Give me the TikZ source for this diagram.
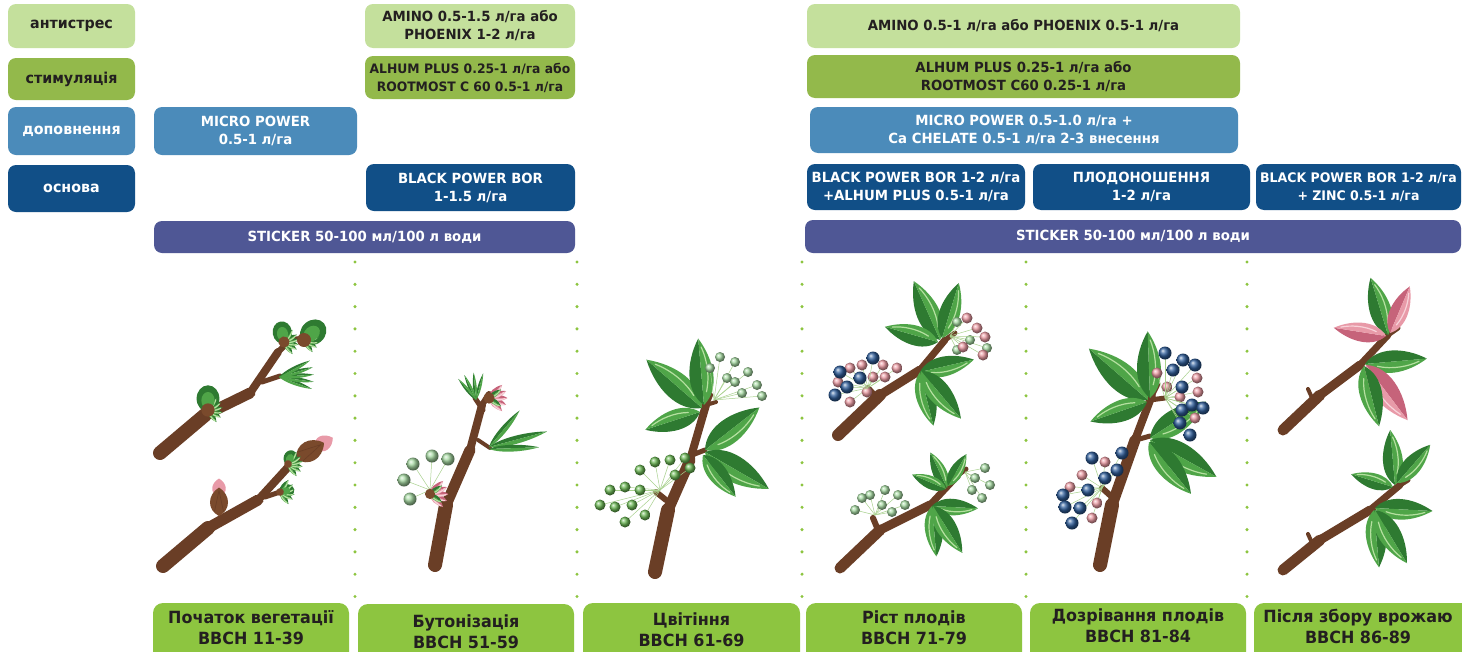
\documentclass[tikz,border=0pt]{standalone}
\usepackage{fontspec}
\setmainfont{DejaVu Sans}[FakeStretch=0.95]
\definecolor{cAnti}{HTML}{C4E09C}
\definecolor{cStim}{HTML}{93B94B}
\definecolor{cDop}{HTML}{4B8BBA}
\definecolor{cOsn}{HTML}{114F87}
\definecolor{cStick}{HTML}{4F5795}
\definecolor{cLab}{HTML}{8DC540}
\definecolor{txtD}{HTML}{231F20}
\definecolor{brC}{HTML}{6A3E26}
\definecolor{brH}{HTML}{8C5B3C}
\definecolor{lfD}{HTML}{2E7A31}
\definecolor{lfM}{HTML}{4FA548}
\definecolor{lfL}{HTML}{B5E0A0}
\definecolor{pD}{HTML}{C6637A}
\definecolor{pM}{HTML}{E89AA8}
\definecolor{pL}{HTML}{F8D3DA}
\definecolor{bblue}{HTML}{2F5E9B}
\definecolor{bpink}{HTML}{EC9BA3}
\definecolor{flG}{HTML}{A6D9A2}
\definecolor{flG2}{HTML}{6CB955}
\definecolor{stmC}{HTML}{A9D18E}
\definecolor{budB}{HTML}{7A4A2C}
\newcommand\mycluster[4]{%
  \foreach \x/\y in {#3} {\draw[stm] (#1,#2) -- (\x,\y);}
  \foreach \x/\y in {#3} {\shade[#4] (\x,\y) circle;}}
\tikzset{
  leaf/.pic={
    \fill[lfD] (0,0) .. controls (10,-12) and (30,-10) .. (46,0) -- cycle;
    \fill[lfM] (0,0) .. controls (10,12) and (30,10) .. (46,0) -- cycle;
    \draw[lfL, line width=1.2, line cap=round] (9,2.5) .. controls (20,6) and (32,4.5) .. (40,1.5);
  },
  pleaf/.pic={
    \fill[pD] (0,0) .. controls (10,-12) and (30,-10) .. (46,0) -- cycle;
    \fill[pM] (0,0) .. controls (10,12) and (30,10) .. (46,0) -- cycle;
    \draw[pL, line width=1.2, line cap=round] (9,2.5) .. controls (20,6) and (32,4.5) .. (40,1.5);
  },
  nleaf/.pic={
    \fill[lfD] (0,0) .. controls (12,-5) and (35,-4) .. (50,0) -- cycle;
    \fill[lfM] (0,0) .. controls (12,5) and (35,4) .. (50,0) -- cycle;
  },
  gbud/.pic={
    \fill[lfD] (6,0) ellipse (7 and 6);
    \foreach \a in {-55,-30,-10,10,30,55} {\pic[rotate=\a, scale=0.32] at (0,0) {leaf};}
    \fill[lfM] (5,0) ellipse (4.5 and 3.5);
    \fill[budB] (0,0) circle (3.5);
  },
  bbud/.pic={
    \fill[pM] (12,0) .. controls (16,-7) and (22,-5) .. (25,0) .. controls (22,5) and (16,7) .. (12,0);
    \fill[budB] (0,0) .. controls (4,-8) and (14,-8) .. (19,0) .. controls (14,8) and (4,8) .. (0,0);
    \draw[brC, line width=0.6] (3,-3) -- (17,0) (3,3) -- (17,0);
  },
  pflower/.pic={
    \foreach \a in {-45,-22,0,22,45} {\pic[rotate=\a, scale=0.4] at (0,0) {pleaf};}
    \foreach \a in {-35,35} {\pic[rotate=\a, scale=0.32] at (0,0) {leaf};}
    \fill[budB] (0,0) circle (3.5);
  },
  box/.style={rounded corners=8, align=center, inner sep=0pt, font=\bfseries\fontsize{14}{18}\selectfont},
  bA/.style={box, fill=cAnti, text=txtD},
  bS/.style={box, fill=cStim, text=txtD},
  bD/.style={box, fill=cDop, text=white},
  bO/.style={box, fill=cOsn, text=white},
  bT/.style={box, fill=cStick, text=white},
  lgfont/.style={font=\bfseries\fontsize{15}{18}\selectfont},
  labbox/.style={fill=cLab, rounded corners=10},
  labtxt/.style={align=center, text=txtD, inner sep=0pt, font=\bfseries\fontsize{16.8}{21}\selectfont},
  dotc/.style={fill=cLab},
  br/.style={draw=brC, line cap=round, line join=round},
  stm/.style={draw=stmC, line width=0.5},
  blueb/.style={ball color=bblue, radius=6.5},
  pinkb/.style={ball color=bpink, radius=5.5},
  grnf/.style={ball color=flG, radius=5},
  grnfB/.style={ball color=flG, radius=6.5},
  grnf2/.style={ball color=flG2, radius=5.5},
}
\begin{document}
\begin{tikzpicture}[x=1pt,y=-1pt]
\useasboundingbox (0,0) rectangle (1462,651);
\fill[white] (0,0) rectangle (1462,651);

% legend
\node[bA, lgfont, minimum width=127, minimum height=44] (lgA) at (71.5,26) {антистрес};
\node[bS, lgfont, minimum width=127, minimum height=42] (lgS) at (71.5,79) {стимуляція};
\node[bD, lgfont, minimum width=127, minimum height=48] (lgD) at (71.5,131) {доповнення};
\node[bO, lgfont, minimum width=127, minimum height=47] (lgO) at (71.5,188.5) {основа};

% left block
\node[bD, minimum width=203, minimum height=48] (mp1) at (255.5,131) {MICRO POWER\\0.5-1 л/га};
\node[bA, minimum width=210, minimum height=44] (am1) at (470,26) {AMINO 0.5-1.5 л/га або\\PHOENIX 1-2 л/га};
\node[bS, minimum width=210, minimum height=43, font=\bfseries\fontsize{13}{18}\selectfont] (al1) at (470,77.5) {ALHUM PLUS 0.25-1 л/га або\\ROOTMOST C 60 0.5-1 л/га};
\node[bO, minimum width=209, minimum height=47] (bp1) at (470.5,187.5) {BLACK POWER BOR\\1-1.5 л/га};
\node[bT, minimum width=421, minimum height=32] (st1) at (364.5,237) {STICKER 50-100 мл/100 л води};

% right block
\node[bA, minimum width=433, minimum height=44] (am2) at (1023.5,26) {AMINO 0.5-1 л/га або PHOENIX 0.5-1 л/га};
\node[bS, minimum width=433, minimum height=43] (al2) at (1023.5,76.5) {ALHUM PLUS 0.25-1 л/га або\\ROOTMOST C60 0.25-1 л/га};
\node[bD, minimum width=428, minimum height=46] (mp2) at (1024,130) {MICRO POWER 0.5-1.0 л/га +\\Ca CHELATE 0.5-1 л/га 2-3 внесення};
\node[bO, minimum width=218, minimum height=46] (bp2) at (916,187) {BLACK POWER BOR 1-2 л/га\\+ALHUM PLUS 0.5-1 л/га};
\node[bO, minimum width=217, minimum height=46] (pl2) at (1141.5,187) {ПЛОДОНОШЕННЯ\\1-2 л/га};
\node[bO, minimum width=205, minimum height=46, font=\bfseries\fontsize{13.2}{18}\selectfont] (bp3) at (1358.5,187) {BLACK POWER BOR 1-2 л/га\\+ ZINC 0.5-1 л/га};
\node[bT, minimum width=656, minimum height=33] (st2) at (1133,236.5) {STICKER 50-100 мл/100 л води};

% dotted separators
\foreach \x in {355,577,802,1026,1247} {
  \foreach \i in {0,...,15} {\fill[dotc] (\x,262+22.3*\i) circle (1.7);}
}

% bottom labels
\fill[labbox] (153,603) rectangle (349,680);
\fill[labbox] (358,604) rectangle (574,680);
\fill[labbox] (583,603) rectangle (800,680);
\fill[labbox] (806,603) rectangle (1022,680);
\fill[labbox] (1030,603) rectangle (1246,680);
\fill[labbox] (1254,603) rectangle (1472,680);
\node[labtxt] (t1) at (251,628) {Початок вегетації\\ВВСН 11-39};
\node[labtxt] (t2) at (466,632) {Бутонізація\\ВВСН 51-59};
\node[labtxt] (t3) at (691.5,630) {Цвітіння\\ВВСН 61-69};
\node[labtxt] (t4) at (914,628) {Ріст плодів\\ВВСН 71-79};
\node[labtxt] (t5) at (1138,626) {Дозрівання плодів\\ВВСН 81-84};
\node[labtxt] (t6) at (1358,626) {Після збору врожаю\\ВВСН 86-89};

% ===== column 1 : upper branch
\draw[br,line width=14] (160,453) -- (205,415);
\draw[br,line width=11] (205,415) -- (250,393);
\draw[br,line width=8] (250,393) -- (278,352);
\draw[br,line width=6] (278,352) -- (292,338);
\draw[br,line width=5] (262,382) -- (280,376);
\draw[br,line width=5] (288,340) -- (304,338);
\foreach \a in {-20,-8,4,16,28} {\pic[rotate=\a,scale=0.7] at (279,377) {nleaf};}
\pic[rotate=90,scale=1.9] at (208,410) {gbud};
\pic[rotate=100,scale=1.6] at (284,342) {gbud};
\pic[rotate=40,scale=2.0] at (304,340) {gbud};
% column 1 : lower branch
\draw[br,line width=14] (163,566) -- (208,528);
\draw[br,line width=11] (208,528) -- (258,500);
\draw[br,line width=8] (258,500) -- (290,465);
\draw[br,line width=6] (290,465) -- (302,455);
\draw[br,line width=5] (265,497) -- (280,492);
\pic[rotate=90,scale=1.5] at (219,516) {bbud};
\pic[rotate=30,scale=1.7] at (296,459) {bbud};
\pic[rotate=70,scale=1.1] at (288,464) {gbud};
\pic[rotate=10,scale=1.1] at (280,492) {gbud};

% ===== column 2
\draw[br,line width=14] (435,565) -- (446,505);
\draw[br,line width=11] (446,505) -- (470,450);
\draw[br,line width=8] (470,450) -- (482,405);
\draw[br,line width=6] (482,405) -- (489,394);
\draw[br,line width=7] (446,505) -- (430,492);
\draw[br,line width=5] (483,410) -- (475,398);
\draw[br,line width=4] (478,440) -- (490,448);
\mycluster{430}{490}{413/464,432/456,448/459,404/480,410/499}{grnfB}
\pic[rotate=90,scale=1.45] at (430,494) {pflower};
\pic[rotate=45,scale=1.6] at (489,398) {pflower};
\foreach \a in {75,95,115,130} {\pic[rotate=\a,scale=0.55] at (476,400) {nleaf};}
\pic[rotate=50,scale=0.95] at (489,447) {nleaf};
\pic[rotate=15,scale=1.2] at (489,447) {nleaf};
\pic[rotate=2,scale=1.0] at (489,449) {nleaf};

% ===== column 3
\draw[br,line width=14] (655,572) -- (668,510);
\draw[br,line width=11] (668,510) -- (690,460);
\draw[br,line width=8] (690,460) -- (706,405);
\draw[br,line width=6] (706,405) -- (710,395);
\draw[br,line width=6] (666,500) -- (656,492);
\draw[br,line width=5] (692,455) -- (705,450);
\draw[br,line width=4] (706,405) -- (716,402);
\pic[rotate=139,scale=1.6] at (702,408) {leaf};
\pic[rotate=95,scale=1.45] at (704,405) {leaf};
\pic[rotate=198,scale=1.25] at (700,412) {leaf};
\pic[rotate=38,scale=1.5] at (705,450) {leaf};
\pic[rotate=-30,scale=1.6] at (705,452) {leaf};
\pic[rotate=-52,scale=1.15] at (703,455) {leaf};
\mycluster{714}{400}{720/357,735/362,748/372,757/385,742/393,727/378,762/396,710/368,735/382}{grnf}
\mycluster{660}{490}{615/507,625/487,640/470,655/462,670/460,685/458,690/468,632/505,645/515,625/522,610/490,600/505,640/490,675/475}{grnf2}

% ===== column 4 upper
\draw[br,line width=12] (838,435) -- (880,395);
\draw[br,line width=9] (880,395) -- (920,370);
\draw[br,line width=7] (920,370) -- (945,340);
\draw[br,line width=5] (945,340) -- (955,333);
\draw[br,line width=6] (877,398) -- (868,388);
\pic[rotate=114,scale=1.4] at (940,340) {leaf};
\pic[rotate=73,scale=1.25] at (942,338) {leaf};
\pic[rotate=164,scale=1.2] at (938,342) {leaf};
\pic[rotate=13,scale=1.2] at (920,372) {leaf};
\pic[rotate=-76,scale=1.2] at (920,372) {leaf};
\pic[rotate=-50,scale=1.35] at (921,371) {leaf};
\mycluster{868}{388}{838/382,850/368,862/365,850/402,867/392,883/365,897/368,885/377,873/377}{pinkb}
\mycluster{868}{388}{835/395,840/372,847/387,860/378,873/358}{blueb}
\mycluster{950}{336}{957/322,970/340,987/348,957/350}{grnf}
\mycluster{950}{336}{967/318,985/337,983/355,963/347,977/328}{pinkb}
% column 4 lower
\draw[br,line width=11] (840,568) -- (880,530);
\draw[br,line width=9] (880,530) -- (930,505);
\draw[br,line width=7] (930,505) -- (958,475);
\draw[br,line width=5] (958,475) -- (966,469);
\draw[br,line width=6] (878,530) -- (873,518);
\pic[rotate=115,scale=0.85] at (947,488) {leaf};
\pic[rotate=157,scale=0.8] at (946,489) {leaf};
\pic[rotate=60,scale=0.8] at (948,486) {leaf};
\pic[rotate=-3,scale=1.0] at (932,506) {leaf};
\pic[rotate=-85,scale=1.1] at (932,506) {leaf};
\pic[rotate=-58,scale=1.2] at (933,506) {leaf};
\mycluster{875}{515}{870/495,855/510,885/490,898/495,905/505,882/505,892/512,862/498}{grnf}
\mycluster{965}{472}{975/478,985/468,990/485,982/498,972/490}{grnf}

% ===== column 5
\draw[br,line width=14] (1100,565) -- (1112,505);
\draw[br,line width=11] (1112,505) -- (1135,440);
\draw[br,line width=8] (1135,440) -- (1152,395);
\draw[br,line width=6] (1152,395) -- (1157,385);
\draw[br,line width=6] (1112,497) -- (1102,488);
\draw[br,line width=5] (1150,400) -- (1165,398);
\draw[br,line width=5] (1136,440) -- (1150,436);
\pic[rotate=139,scale=1.7] at (1148,400) {leaf};
\pic[rotate=92,scale=1.45] at (1150,398) {leaf};
\pic[rotate=199,scale=1.3] at (1147,402) {leaf};
\pic[rotate=33,scale=1.45] at (1150,438) {leaf};
\pic[rotate=-29,scale=1.65] at (1150,440) {leaf};
\pic[rotate=-51,scale=1.45] at (1149,442) {leaf};
\mycluster{1165}{398}{1157/373,1167/387,1197/378,1198/392,1195/418,1180/397}{pinkb}
\mycluster{1165}{398}{1165/353,1183/360,1195/365,1173/370,1182/387,1182/410,1192/405,1203/408,1180/423,1190/435}{blueb}
\mycluster{1102}{488}{1105/462,1082/475,1070/487,1097/503,1092/518}{pinkb}
\mycluster{1102}{488}{1092/458,1122/453,1117/470,1105/478,1088/490,1063/495,1065/507,1080/508,1072/523}{blueb}

% ===== column 6 upper
\draw[br,line width=11] (1283,430) -- (1320,395);
\draw[br,line width=9] (1320,395) -- (1360,365);
\draw[br,line width=7] (1360,365) -- (1388,335);
\draw[br,line width=5] (1388,335) -- (1398,328);
\draw[br,line width=4] (1313,400) -- (1308,389);
\pic[rotate=107,scale=1.3] at (1388,335) {leaf};
\pic[rotate=171,scale=1.15] at (1386,336) {pleaf};
\pic[rotate=67,scale=1.1] at (1390,333) {pleaf};
\pic[rotate=5,scale=1.35] at (1365,364) {leaf};
\pic[rotate=-53,scale=1.5] at (1366,365) {pleaf};
\pic[rotate=-76,scale=1.35] at (1364,366) {leaf};
% column 6 lower
\draw[br,line width=11] (1283,570) -- (1320,540);
\draw[br,line width=9] (1320,540) -- (1370,510);
\draw[br,line width=7] (1370,510) -- (1400,485);
\draw[br,line width=5] (1400,485) -- (1408,480);
\draw[br,line width=4] (1313,545) -- (1308,534);
\pic[rotate=95,scale=1.2] at (1395,485) {leaf};
\pic[rotate=163,scale=0.95] at (1393,487) {leaf};
\pic[rotate=49,scale=1.1] at (1397,483) {leaf};
\pic[rotate=-3,scale=1.25] at (1375,508) {leaf};
\pic[rotate=-85,scale=1.25] at (1374,510) {leaf};
\pic[rotate=-59,scale=1.35] at (1375,510) {leaf};
\end{tikzpicture}
\end{document}
